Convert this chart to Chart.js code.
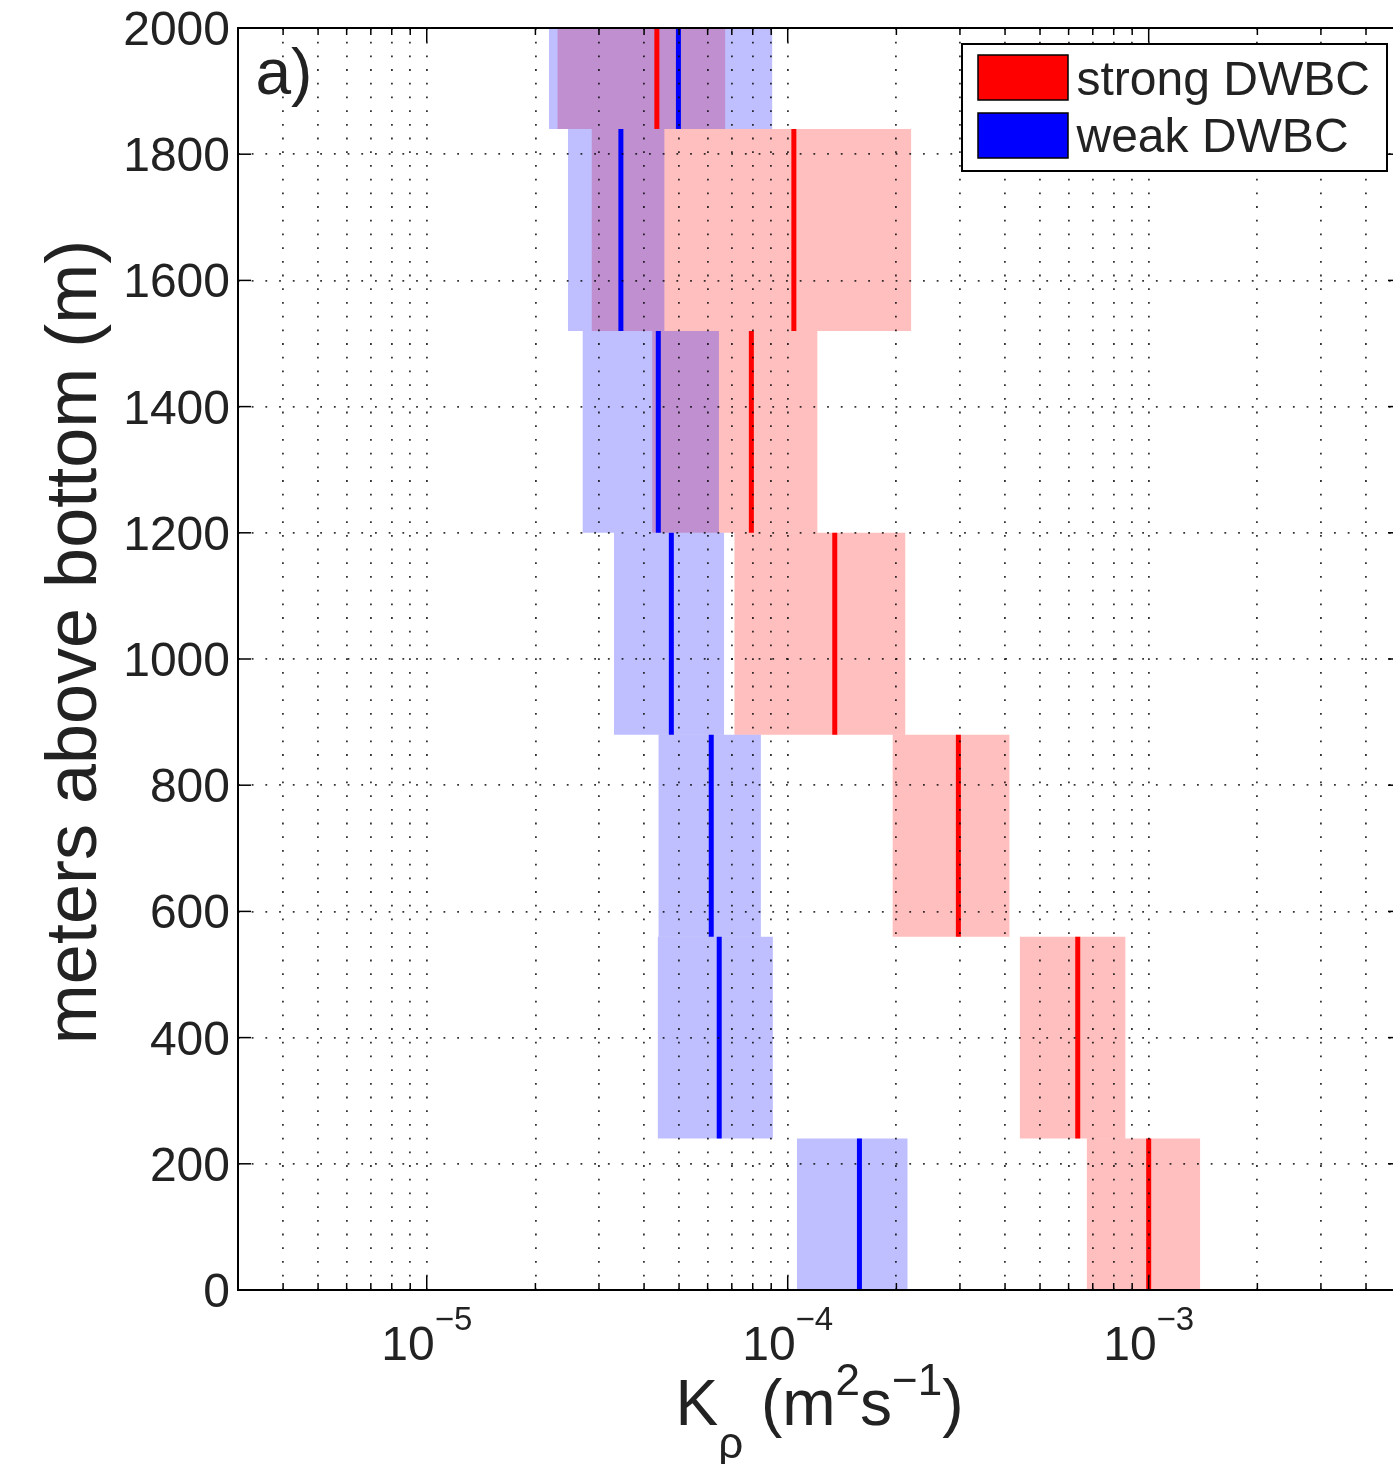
<!DOCTYPE html>
<html>
<head>
<meta charset="utf-8">
<script src="https://cdn.jsdelivr.net/npm/chart.js@4.4.1/dist/chart.umd.min.js"></script>
<style>
  html, body { margin: 0; padding: 0; background: #fff; overflow: hidden; }
  #wrap { width: 1410px; height: 1464px; }
</style>
</head>
<body>
<div id="wrap"><canvas id="kChart"></canvas></div>
<script>
// depth bins (meters above bottom)
var binBottom = [0, 240, 560, 880, 1200, 1520, 1840];
var binTop = [240, 560, 880, 1200, 1520, 1840, 2000];

// strong DWBC: range and median of K_rho
var strongLow = [6.73e-4, 4.39e-4, 1.95e-4, 7.11e-5, 4.21e-5, 2.86e-5, 2.30e-5];
var strongMed = [1.00e-3, 6.36e-4, 2.97e-4, 1.35e-4, 7.93e-5, 1.04e-4, 4.34e-5];
var strongHigh = [1.39e-3, 8.63e-4, 4.12e-4, 2.12e-4, 1.21e-4, 2.20e-4, 6.72e-5];

// weak DWBC
var weakLow = [1.06e-4, 4.36e-5, 4.38e-5, 3.30e-5, 2.70e-5, 2.46e-5, 2.18e-5];
var weakMed = [1.58e-4, 6.46e-5, 6.14e-5, 4.76e-5, 4.38e-5, 3.45e-5, 4.98e-5];
var weakHigh = [2.15e-4, 9.10e-5, 8.43e-5, 6.67e-5, 6.45e-5, 4.56e-5, 9.07e-5];

var yTicks = [0, 200, 400, 600, 800, 1000, 1200, 1400, 1600, 1800, 2000];
var xMajorTicks = [1e-5, 1e-4, 1e-3];
var xMajorExp = ['\u22125', '\u22124', '\u22123'];
var xMin = 3e-6, xMax = 5e-3;

var seriesNames = ['strong DWBC', 'weak DWBC'];
var redFill = 'rgba(255,0,0,0.25)', blueFill = 'rgba(0,0,255,0.25)';

// minor + major positions for log axis
var xTickValues = [];
for (var d = -6; d <= -3; d++) {
  for (var m = 1; m <= 9; m++) {
    var v = m * Math.pow(10, d);
    if (v >= xMin * 0.999 && v <= xMax * 1.001) xTickValues.push(v);
  }
}
function isMajor(v) {
  var l = Math.log10(v);
  return Math.abs(l - Math.round(l)) < 1e-6;
}

var FONT = '"Liberation Sans", Arial, Helvetica, sans-serif';
var TXT = '#222';

function boxSet(lo, hi, bottom, top, color, order) {
  return {
    data: [{x: lo, y: top}, {x: hi, y: top}],
    fill: {value: bottom},
    backgroundColor: color,
    borderColor: 'transparent',
    borderWidth: 0,
    pointRadius: 0,
    order: order
  };
}
function medSet(med, bottom, top, color) {
  return {
    data: [{x: med, y: bottom}, {x: med, y: top}],
    borderColor: color,
    borderWidth: 5,
    pointRadius: 0,
    fill: false,
    order: 0
  };
}

var datasets = [];
for (var i = 0; i < binBottom.length; i++) {
  datasets.push(boxSet(strongLow[i], strongHigh[i], binBottom[i], binTop[i], redFill, 2));
  datasets.push(boxSet(weakLow[i], weakHigh[i], binBottom[i], binTop[i], blueFill, 1));
  datasets.push(medSet(strongMed[i], binBottom[i], binTop[i], 'rgb(255,0,0)'));
  datasets.push(medSet(weakMed[i], binBottom[i], binTop[i], 'rgb(0,0,255)'));
}

var gridOpts = { color: 'rgba(0,0,0,0.8)', lineWidth: 1.8, drawTicks: false, z: 1 };
var borderOpts = { display: false, dash: [1.8, 11.9] };

var decor = {
  id: 'decor',
  afterDraw: function(chart) {
    var ctx = chart.ctx, a = chart.chartArea;
    var xs = chart.scales.x, ys = chart.scales.y;
    function seg(x1, y1, x2, y2) {
      ctx.beginPath(); ctx.moveTo(x1, y1); ctx.lineTo(x2, y2); ctx.stroke();
    }
    ctx.save();
    ctx.strokeStyle = '#000';
    ctx.lineWidth = 2;
    ctx.strokeRect(a.left, a.top, a.right - a.left, a.bottom - a.top);

    // inward ticks
    ctx.lineWidth = 1.5;
    yTicks.forEach(function(v) {
      var y = ys.getPixelForValue(v);
      seg(a.left, y, a.left + 13, y);
      seg(a.right, y, a.right - 13, y);
    });
    xTickValues.forEach(function(v) {
      var x = xs.getPixelForValue(v);
      var len = isMajor(v) ? 14 : 7;
      seg(x, a.bottom, x, a.bottom - len);
      seg(x, a.top, x, a.top + len);
    });

    ctx.fillStyle = TXT;
    ctx.textBaseline = 'alphabetic';

    // y tick labels
    ctx.font = '48px ' + FONT;
    ctx.textAlign = 'right';
    yTicks.forEach(function(v) {
      ctx.fillText(String(v), a.left - 8, ys.getPixelForValue(v) + 17);
    });

    // x tick labels 10^n
    ctx.textAlign = 'left';
    xMajorTicks.forEach(function(v, k) {
      var x = xs.getPixelForValue(v);
      ctx.font = '48px ' + FONT;
      var w1 = ctx.measureText('10').width;
      ctx.font = '33px ' + FONT;
      var w2 = ctx.measureText(xMajorExp[k]).width;
      var x0 = x - (w1 + w2) / 2;
      ctx.font = '48px ' + FONT;
      ctx.fillText('10', x0, a.bottom + 70);
      ctx.font = '33px ' + FONT;
      ctx.fillText(xMajorExp[k], x0 + w1, a.bottom + 40);
    });

    // x title: K_rho (m^2 s^-1)
    var parts = [['K', 64, 0], ['\u03c1', 44, 33], [' (m', 64, 0], ['2', 44, -30], ['s', 64, 0], ['\u22121', 44, -30], [')', 64, 0]];
    var total = 0;
    parts.forEach(function(p) { ctx.font = p[1] + 'px ' + FONT; p.push(ctx.measureText(p[0]).width); total += p[3]; });
    var px = (a.left + a.right) / 2 - total / 2;
    parts.forEach(function(p) {
      ctx.font = p[1] + 'px ' + FONT;
      ctx.fillText(p[0], px, a.bottom + 135 + p[2]);
      px += p[3];
    });

    // y title
    ctx.save();
    ctx.translate(96, 642);
    ctx.rotate(-Math.PI / 2);
    ctx.textAlign = 'center';
    ctx.font = '72px ' + FONT;
    ctx.fillText('meters above bottom (m)', 0, 0);
    ctx.restore();

    // panel label
    ctx.textAlign = 'left';
    ctx.font = '64px ' + FONT;
    ctx.fillText('a)', 255.5, 94);

    // legend
    var lx = 962, ly = 44, lw = 425, lh = 127;
    ctx.fillStyle = '#fff';
    ctx.fillRect(lx, ly, lw, lh);
    ctx.lineWidth = 2;
    ctx.strokeStyle = '#000';
    ctx.strokeRect(lx, ly, lw, lh);
    var swatch = ['rgb(255,0,0)', 'rgb(0,0,255)'];
    ctx.lineWidth = 1.5;
    for (var s = 0; s < 2; s++) {
      var sy = 55 + s * 58;
      ctx.fillStyle = swatch[s];
      ctx.fillRect(978, sy, 90, 45);
      ctx.strokeRect(978, sy, 90, 45);
      ctx.fillStyle = TXT;
      ctx.font = '48px ' + FONT;
      ctx.fillText(seriesNames[s], 1076.5, 95 + s * 57);
    }
    ctx.restore();
  }
};

new Chart(document.getElementById('kChart'), {
  type: 'line',
  data: { datasets: datasets },
  options: {
    responsive: true,
    maintainAspectRatio: false,
    animation: false,
    events: [],
    layout: { padding: { left: 238, top: 28, right: 9, bottom: 174 } },
    plugins: { legend: { display: false }, tooltip: { enabled: false } },
    scales: {
      x: {
        type: 'logarithmic',
        min: xMin,
        max: xMax,
        afterBuildTicks: function(scale) {
          scale.ticks = xTickValues.map(function(v) { return {value: v}; });
        },
        ticks: { display: false },
        grid: gridOpts,
        border: borderOpts
      },
      y: {
        type: 'linear',
        min: 0,
        max: 2000,
        afterBuildTicks: function(scale) {
          scale.ticks = yTicks.map(function(v) { return {value: v}; });
        },
        ticks: { display: false },
        grid: gridOpts,
        border: borderOpts
      }
    }
  },
  plugins: [decor]
});
</script>
</body>
</html>
